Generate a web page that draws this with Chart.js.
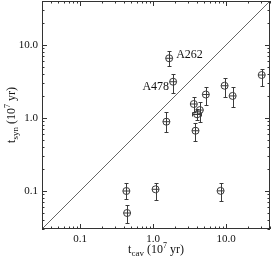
<!DOCTYPE html>
<html><head><meta charset="utf-8">
<script src="https://cdn.jsdelivr.net/npm/chart.js@4.4.1/dist/chart.umd.min.js"></script>
<style>html,body{margin:0;padding:0;background:#fff}#wrap{width:273px;height:260px}</style>
</head><body><div id="wrap"><canvas id="c"></canvas></div>
<script>
const tcav   = [1.66, 1.88, 3.61, 5.28, 9.54, 12.3, 30.8, 4.37, 4.01, 1.52, 3.81, 0.43, 0.44, 1.08, 8.41];
const tsyn   = [6.56, 3.13, 1.55, 2.09, 2.76, 2.00, 3.87, 1.28, 1.12, 0.887, 0.667, 0.0995, 0.0497, 0.105, 0.100];
const tsynLo = [5.19, 2.17, 1.22, 1.50, 1.95, 1.40, 2.76, 0.89, 0.93, 0.64, 0.48, 0.077, 0.036, 0.075, 0.0726];
const tsynHi = [8.33, 4.00, 1.95, 2.67, 3.49, 2.63, 4.68, 1.64, 1.32, 1.20, 0.84, 0.127, 0.064, 0.129, 0.128];
const tcavLo = [null, null, null, null, null, null, null, null, 3.36, null, null, null, null, null, null];
const tcavHi = [null, null, null, null, null, null, null, null, 4.60, null, null, null, null, null, null];
const names  = ['A262', 'A478', '', '', '', '', '', '', '', '', '', '', '', '', ''];
const tickVals = [0.1, 1, 10];
const tickLabels = ['0.1', '1.0', '10.0'];
const axisMin = 0.03, axisMax = 40;

const pts = tcav.map((x, i) => ({x, y: tsyn[i]}));
const FONT = '"Liberation Serif", "Times New Roman", serif';
const INK = '#3a3a3a';

const decor = {
  id: 'decor',
  afterDatasetsDraw(chart) {
    const {ctx, chartArea: a, scales: {x, y}} = chart;
    ctx.save();
    ctx.strokeStyle = INK; ctx.lineWidth = 1;
    const cap = 2;
    tcav.forEach((v, i) => {
      const px = Math.round(x.getPixelForValue(v)) + 0.5;
      const y1 = Math.round(y.getPixelForValue(tsynHi[i])) + 0.5;
      const y2 = Math.round(y.getPixelForValue(tsynLo[i])) + 0.5;
      ctx.beginPath();
      ctx.moveTo(px, y1); ctx.lineTo(px, y2);
      ctx.moveTo(px - cap, y1); ctx.lineTo(px + cap, y1);
      ctx.moveTo(px - cap, y2); ctx.lineTo(px + cap, y2);
      if (tcavLo[i] != null) {
        const py = Math.round(y.getPixelForValue(tsyn[i])) + 0.5;
        const x1 = Math.round(x.getPixelForValue(tcavLo[i])) + 0.5;
        const x2 = Math.round(x.getPixelForValue(tcavHi[i])) + 0.5;
        ctx.moveTo(x1, py); ctx.lineTo(x2, py);
        ctx.moveTo(x1, py - cap); ctx.lineTo(x1, py + cap);
        ctx.moveTo(x2, py - cap); ctx.lineTo(x2, py + cap);
      }
      ctx.stroke();
    });
    ctx.strokeStyle = '#333';
    ctx.strokeRect(Math.round(a.left) + 0.5, Math.round(a.top) + 0.5,
                   Math.round(a.right) - Math.round(a.left) - 1, Math.round(a.bottom) - Math.round(a.top) - 1);
    ctx.beginPath();
    for (let d = 0.01; d < 100; d *= 10) {
      for (let m = 1; m <= 9; m++) {
        const v = m * d;
        if (v < axisMin || v > axisMax) continue;
        const L = m === 1 ? 5 : 2.5;
        const px = Math.round(x.getPixelForValue(v)) + 0.5;
        ctx.moveTo(px, a.bottom); ctx.lineTo(px, a.bottom - L);
        ctx.moveTo(px, a.top); ctx.lineTo(px, a.top + L);
        const py = Math.round(y.getPixelForValue(v)) + 0.5;
        ctx.moveTo(a.left, py); ctx.lineTo(a.left + L, py);
        ctx.moveTo(a.right, py); ctx.lineTo(a.right - L, py);
      }
    }
    ctx.stroke();
    ctx.fillStyle = '#111';
    ctx.font = '12px ' + FONT;
    ctx.textBaseline = 'middle';
    names.forEach((n, i) => {
      if (!n) return;
      const px = x.getPixelForValue(tcav[i]);
      const py = y.getPixelForValue(tsyn[i]);
      if (i === 0) { ctx.textAlign = 'left'; ctx.fillText(n, px + 7, py - 3); }
      else { ctx.textAlign = 'right'; ctx.fillText(n, px - 4, py + 5); }
    });
    const seqFor = (sub) => [
      [ 't', 12, 0 ], [ sub, 9, 3 ], [ ' (10', 12, 0 ], [ '7', 8, -5 ], [ ' yr)', 12, 0 ]
    ];
    const drawTitle = (sub, cx, base) => {
      const seq = seqFor(sub);
      let w = 0;
      seq.forEach(([t, s]) => { ctx.font = s + 'px ' + FONT; w += ctx.measureText(t).width; });
      let xx = cx - w / 2;
      ctx.textAlign = 'left'; ctx.textBaseline = 'alphabetic';
      seq.forEach(([t, s, dy]) => { ctx.font = s + 'px ' + FONT; ctx.fillText(t, xx, base + dy); xx += ctx.measureText(t).width; });
    };
    drawTitle('cav', (a.left + a.right) / 2, 253);
    ctx.save();
    ctx.translate(15, (a.top + a.bottom) / 2);
    ctx.rotate(-Math.PI / 2);
    drawTitle('syn', 0, 0);
    ctx.restore();
    ctx.restore();
  }
};

const logAxis = (extra) => Object.assign({
  type: 'logarithmic', min: axisMin, max: axisMax,
  grid: { display: false, drawTicks: false },
  border: { display: false },
  afterBuildTicks: (s) => { s.ticks = tickVals.map(v => ({ value: v })); },
  ticks: {
    autoSkip: false, maxRotation: 0, padding: 4, color: '#111',
    font: { family: FONT, size: 11 },
    callback: (v) => { const k = tickVals.findIndex(t => Math.abs(t - v) < 1e-9); return k >= 0 ? tickLabels[k] : ''; }
  }
}, extra);

const zeroPad = (s) => { s.paddingTop = 0; s.paddingBottom = 0; s.paddingLeft = 0; s.paddingRight = 0; };

new Chart(document.getElementById('c'), {
  type: 'scatter',
  data: {
    datasets: [
      { type: 'line', data: [{x: axisMin, y: axisMin}, {x: axisMax, y: axisMax}],
        borderColor: '#666', borderWidth: 1, pointRadius: 0, order: 3 },
      { data: pts, pointStyle: 'circle', pointRadius: 3.5, borderColor: INK, borderWidth: 1,
        backgroundColor: 'rgba(0,0,0,0)', order: 1 },
      { data: pts, pointStyle: 'line', pointRadius: 3.5, borderColor: INK, borderWidth: 1, order: 2 }
    ]
  },
  options: {
    responsive: true, maintainAspectRatio: false, animation: false,
    layout: { autoPadding: false, padding: { top: 1, right: 3, left: 0, bottom: 0 } },
    plugins: { legend: { display: false }, tooltip: { enabled: false } },
    scales: {
      x: logAxis({ afterFit: (s) => { s.height = 31; zeroPad(s); } }),
      y: logAxis({ afterFit: (s) => { s.width = 42; zeroPad(s); } })
    }
  },
  plugins: [decor]
});
</script></body></html>
